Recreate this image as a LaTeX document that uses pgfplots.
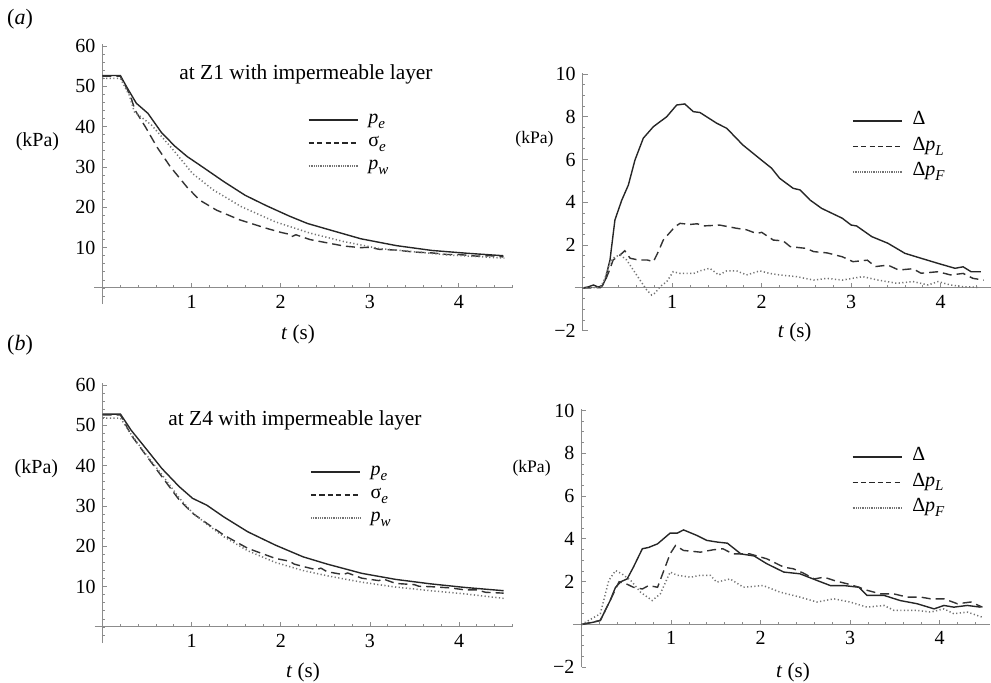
\documentclass[border=0pt]{standalone}
\usepackage{pgfplots}
\usepackage{pgfplotstable}
\pgfplotsset{compat=1.18}
\usepackage{fontspec}
\setmainfont{Liberation Serif}
\newcommand\sub[1]{\raisebox{-0.5ex}{\fontsize{7.5}{8}\selectfont\textit{#1}}}

% ---------- data: panel (a) left ----------
\pgfplotstableread{
t v
0 52.7
0.2 52.7
0.27 49.9
0.38 45.8
0.51 43.3
0.66 38.6
0.81 35.2
0.95 32.6
1.13 29.9
1.36 26.4
1.6 23.0
1.84 20.4
2.1 17.8
2.3 16.0
2.52 14.6
2.9 12.2
3.3 10.5
3.7 9.3
4.1 8.6
4.5 8.0
}\APe
\pgfplotstableread{
t v
0 52.5
0.2 52.5
0.31 47.9
0.365 44.1
0.48 40.0
0.61 35.0
0.76 30.1
0.945 25.1
1.09 21.8
1.28 19.3
1.54 16.9
1.84 14.8
2.0 13.8
2.08 13.4
2.12 12.7
2.17 13.2
2.33 12.0
2.71 10.4
2.9 10.0
3.0 10.1
3.1 9.6
3.3 9.4
3.5 8.9
3.7 8.7
3.87 8.3
4.0 8.3
4.2 7.9
4.35 8.0
4.5 7.7
}\ASe
\pgfplotstableread{
t v
0 52.0
0.2 52.0
0.3 47.8
0.357 43.7
0.55 40.4
0.78 34.6
1.01 28.4
1.245 24.3
1.555 20.2
1.94 16.4
2.33 13.6
2.71 11.5
3.1 9.8
3.49 9.0
3.87 8.2
4.2 7.8
4.51 7.4
}\APw
% ---------- data: panel (a) right ----------
\pgfplotstableread{
t v
0 0
0.06 0.05
0.12 0.14
0.17 0.05
0.22 0.1
0.25 0.37
0.305 1.31
0.36 3.18
0.436 4.1
0.51 4.81
0.584 5.98
0.677 7.0
0.79 7.54
0.864 7.77
0.938 8.0
1.05 8.55
1.14 8.6
1.236 8.24
1.31 8.2
1.497 7.7
1.61 7.46
1.79 6.68
2.02 5.9
2.11 5.6
2.2 5.13
2.35 4.66
2.43 4.58
2.54 4.11
2.67 3.72
2.9 3.26
3.0 2.94
3.06 2.9
3.23 2.4
3.41 2.09
3.6 1.62
3.78 1.39
3.97 1.15
4.16 0.92
4.25 0.99
4.34 0.76
4.45 0.76
}\AD
\pgfplotstableread{
t v
0 0
0.2 0.02
0.25 0.3
0.27 0.53
0.3 0.84
0.34 1.31
0.417 1.54
0.47 1.74
0.53 1.39
0.62 1.31
0.72 1.31
0.79 1.23
0.845 1.70
0.9 2.24
1.03 2.86
1.087 3.02
1.2 2.97
1.28 3.0
1.35 2.9
1.53 2.94
1.72 2.79
1.83 2.72
1.94 2.55
2.0 2.6
2.13 2.24
2.24 2.2
2.32 1.93
2.5 1.85
2.58 1.7
2.73 1.64
2.9 1.46
3.02 1.23
3.18 1.3
3.27 1.0
3.41 1.07
3.53 0.84
3.69 0.9
3.78 0.69
3.97 0.76
4.11 0.61
4.25 0.68
4.36 0.45
4.48 0.37
}\ADL
\pgfplotstableread{
t v
0 0
0.2 0.03
0.25 0.47
0.305 1.2
0.36 1.46
0.42 1.54
0.49 1.31
0.565 0.84
0.64 0.37
0.715 -0.09
0.77 -0.33
0.81 -0.23
0.864 0.06
0.94 0.3
1.01 0.76
1.09 0.68
1.24 0.68
1.31 0.8
1.42 0.92
1.52 0.61
1.61 0.8
1.72 0.8
1.83 0.61
1.98 0.8
2.09 0.68
2.2 0.61
2.39 0.53
2.58 0.37
2.73 0.45
2.9 0.37
3.13 0.53
3.3 0.37
3.51 0.22
3.69 0.3
3.86 0.14
3.97 0.3
4.11 0.14
4.25 0.06
4.42 0.03
}\ADF
% ---------- data: panel (b) left ----------
\pgfplotstableread{
t v
0 52.8
0.2 52.8
0.32 48.8
0.47 44.7
0.665 39.3
0.86 34.8
1.01 31.9
1.17 30.2
1.36 27.3
1.63 23.6
1.94 20.3
2.25 17.4
2.52 15.6
2.91 13.3
3.29 11.8
3.68 10.7
4.07 9.8
4.5 9.0
}\BPe
\pgfplotstableread{
t v
0 52.6
0.2 52.6
0.32 47.6
0.47 43.1
0.665 37.3
0.86 31.5
1.01 28.2
1.17 25.7
1.36 22.8
1.63 19.5
1.94 17.0
2.1 16.3
2.15 15.6
2.25 15.0
2.4 14.2
2.45 14.6
2.52 13.7
2.7 13.0
2.75 13.4
2.91 12.1
3.1 11.5
3.15 11.9
3.29 10.8
3.5 10.5
3.55 10.1
3.68 10.0
3.9 9.7
4.07 9.2
4.2 9.2
4.3 8.6
4.5 8.4
}\BSe
\pgfplotstableread{
t v
0 51.8
0.2 51.8
0.32 47.8
0.47 43.3
0.665 37.8
0.86 32.0
1.01 28.3
1.17 25.5
1.36 22.4
1.63 18.9
1.94 16.0
2.25 14.0
2.52 12.7
2.91 11.1
3.29 9.9
3.68 9.0
4.07 8.2
4.5 7.1
}\BPw
% ---------- data: panel (b) right ----------
\pgfplotstableread{
t v
0 0
0.137 0.11
0.21 0.19
0.32 1.12
0.38 1.74
0.44 2.0
0.51 2.13
0.58 2.68
0.68 3.54
0.75 3.6
0.85 3.77
0.99 4.27
1.07 4.27
1.14 4.42
1.29 4.16
1.4 3.93
1.52 3.85
1.63 3.8
1.78 3.3
1.93 3.2
2.07 2.84
2.26 2.45
2.44 2.37
2.63 2.06
2.78 1.82
2.93 1.82
3.1 1.74
3.19 1.36
3.38 1.36
3.56 1.12
3.75 0.97
3.94 0.73
4.05 0.89
4.16 0.81
4.31 0.89
4.46 0.81
}\BD
\pgfplotstableread{
t v
0 0
0.21 0.19
0.32 1.12
0.42 2.0
0.5 1.9
0.58 1.74
0.68 1.66
0.75 1.82
0.85 1.74
0.92 2.52
0.99 3.3
1.05 3.69
1.14 3.46
1.33 3.38
1.47 3.49
1.58 3.54
1.69 3.3
1.88 3.3
2.07 3.07
2.26 2.68
2.37 2.6
2.48 2.4
2.6 2.13
2.71 2.21
2.82 2.06
2.97 1.9
3.1 1.74
3.19 1.6
3.34 1.43
3.49 1.43
3.64 1.28
3.79 1.28
3.9 1.2
4.05 1.2
4.2 0.97
4.35 1.05
4.48 0.81
}\BDL
\pgfplotstableread{
t v
0 0
0.21 0.5
0.305 2.06
0.38 2.52
0.45 2.37
0.55 2.06
0.66 1.51
0.79 1.12
0.88 1.43
0.99 2.45
1.07 2.3
1.22 2.21
1.33 2.3
1.44 2.3
1.51 1.98
1.66 2.13
1.81 1.74
2.03 1.82
2.22 1.51
2.44 1.28
2.63 1.05
2.82 1.2
3.0 1.05
3.19 0.81
3.38 0.89
3.49 0.66
3.75 0.66
3.9 0.58
4.05 0.73
4.16 0.5
4.31 0.58
4.48 0.34
}\BDF

\pgfplotsset{
  mma/.style={
    axis lines=middle,
    axis line style={-, draw=black!45, line width=0.5pt},
    every tick/.style={draw=black!45, line width=0.4pt},
    major tick length=2.4pt,
    minor tick length=1.3pt,
    tick align=inside,
    /pgf/number format/assume math mode=true,
    tick label style={font=\fontsize{10}{12}\selectfont, text=black},
    xtick={1,2,3,4},
    minor xtick={0.2,0.4,...,4.6},
    anchor=origin,
    legend style={draw=none, fill=none, inner sep=0pt, outer sep=0pt,
      font=\fontsize{10}{12}\selectfont, legend cell align=left, anchor=north west,
      nodes={inner sep=1pt, text height=6.5pt, text depth=2.5pt},
      /tikz/every odd column/.append style={column sep=4pt}},
    legend image code/.code={\draw[##1] (0pt,0pt) -- (24.5pt,0pt);},
  },
  leftax/.style={mma, x=44.55pt, y=2.0165pt, xmin=-0.09, xmax=4.61, ymin=-4, ymax=60.6,
    ytick={10,20,30,40,50,60}, minor ytick={-2,0,...,60},
    legend style={row sep=0.5pt}},
  rightax/.style={mma, x=44.75pt, y=10.7pt, xmin=-0.09, xmax=4.56, ymin=-2, ymax=10.05,
    ytick={-2,2,4,6,8,10}, yticklabels={−2,2,4,6,8,10}, minor ytick={-1.5,-1,...,10},
    legend style={row sep=1.75pt}},
  solidl/.style={black!85, line width=0.7pt},
  dashl/.style={black!80, line width=0.7pt, dash pattern=on 4.5pt off 2.5pt},
  dotl/.style={black!55, line width=0.75pt, dash pattern=on 0.6pt off 1.2pt},
  legdash/.style={black!85, line width=0.75pt, dash pattern=on 2.6pt off 1.6pt},
  legdot/.style={black!55, line width=0.7pt, dash pattern=on 0.4pt off 0.5pt},
}

\begin{document}
\begin{tikzpicture}
\path[use as bounding box] (0pt,0pt) rectangle (495.5pt,-341.5pt);

% ---- (a) left ----
\begin{axis}[leftax, at={(51.25pt,-144pt)},
  legend style={at={(axis cs:2.306,44.4)}}]
\addlegendimage{solidl}\addlegendentry{\textit{p}\sub{e}}
\addlegendimage{legdash}\addlegendentry{σ\sub{e}}
\addlegendimage{legdot}\addlegendentry{\textit{p}\sub{w}}
\addplot[solidl, forget plot] table[x=t,y=v] {\APe};
\addplot[dashl, forget plot] table[x=t,y=v] {\ASe};
\addplot[dotl, forget plot] table[x=t,y=v] {\APw};
\end{axis}

% ---- (a) right ----
\begin{axis}[rightax, at={(291.35pt,-144pt)},
  legend style={at={(axis cs:3.01,8.32)}}]
\addlegendimage{solidl}\addlegendentry{Δ}
\addlegendimage{legdash}\addlegendentry{Δ\textit{p}\sub{L}}
\addlegendimage{legdot}\addlegendentry{Δ\textit{p}\sub{F}}
\addplot[solidl, forget plot] table[x=t,y=v] {\AD};
\addplot[dashl, forget plot] table[x=t,y=v] {\ADL};
\addplot[dotl, forget plot] table[x=t,y=v] {\ADF};
\end{axis}

% ---- (b) left ----
\begin{axis}[leftax, at={(51.3pt,-313.5pt)},
  legend style={at={(axis cs:2.33,41.2)}}]
\addlegendimage{solidl}\addlegendentry{\textit{p}\sub{e}}
\addlegendimage{legdash}\addlegendentry{σ\sub{e}}
\addlegendimage{legdot}\addlegendentry{\textit{p}\sub{w}}
\addplot[solidl, forget plot] table[x=t,y=v] {\BPe};
\addplot[dashl, forget plot] table[x=t,y=v] {\BSe};
\addplot[dotl, forget plot] table[x=t,y=v] {\BPw};
\end{axis}

% ---- (b) right ----
\begin{axis}[rightax, at={(290.75pt,-312.25pt)},
  legend style={at={(axis cs:3.02,8.35)}}]
\addlegendimage{solidl}\addlegendentry{Δ}
\addlegendimage{legdash}\addlegendentry{Δ\textit{p}\sub{L}}
\addlegendimage{legdot}\addlegendentry{Δ\textit{p}\sub{F}}
\addplot[solidl, forget plot] table[x=t,y=v] {\BD};
\addplot[dashl, forget plot] table[x=t,y=v] {\BDL};
\addplot[dotl, forget plot] table[x=t,y=v] {\BDF};
\end{axis}

% ---- texts ----
\node[font=\fontsize{11}{13}\selectfont] at (10pt,-9.5pt) {(\textit{a})};
\node[font=\fontsize{11}{13}\selectfont] at (10pt,-172.5pt) {(\textit{b})};
\node[font=\fontsize{10}{12}\selectfont] at (18.75pt,-71pt) {(kPa)};
\node[font=\fontsize{8.8}{10}\selectfont] at (267.25pt,-69.5pt) {(kPa)};
\node[font=\fontsize{10}{12}\selectfont] at (18.2pt,-234.2pt) {(kPa)};
\node[font=\fontsize{8.8}{10}\selectfont] at (265.8pt,-234.2pt) {(kPa)};
\node[font=\fontsize{10.7}{13}\selectfont] at (153pt,-37pt) {at Z1 with impermeable layer};
\node[font=\fontsize{10.7}{13}\selectfont] at (147.5pt,-210pt) {at Z4 with impermeable layer};
\node[font=\fontsize{10.5}{12}\selectfont] at (149pt,-167pt) {\textit{t} (s)};
\node[font=\fontsize{10.5}{12}\selectfont] at (397.3pt,-166pt) {\textit{t} (s)};
\node[font=\fontsize{10.5}{12}\selectfont] at (151.5pt,-336pt) {\textit{t} (s)};
\node[font=\fontsize{10.5}{12}\selectfont] at (396.5pt,-336pt) {\textit{t} (s)};
\end{tikzpicture}
\end{document}
